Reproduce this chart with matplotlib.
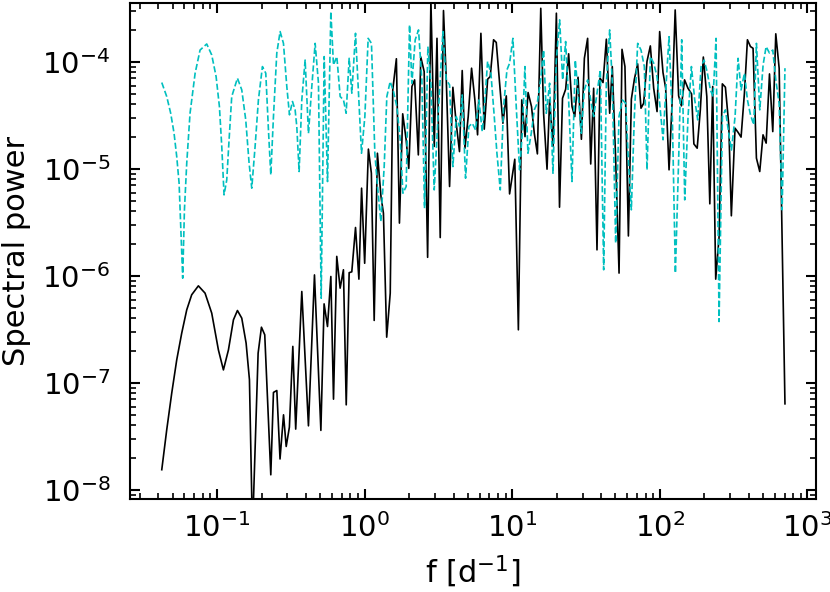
import numpy as np
import matplotlib
matplotlib.use('Agg')
import matplotlib.pyplot as plt

# black curve: frequency [1/d] and spectral power
f_black = [0.0422, 0.0456, 0.0493, 0.0533, 0.0576, 0.0623, 0.0673, 0.0747, 0.0829, 0.0920,
           0.1021, 0.1104, 0.1194, 0.1291, 0.1374, 0.1470, 0.1573, 0.1657, 0.1737, 0.1897,
           0.1998, 0.2104, 0.2312, 0.241, 0.254, 0.267, 0.282, 0.294,
           0.309, 0.326, 0.341, 0.375, 0.416, 0.457, 0.505, 0.531, 0.560, 0.590,
           0.615, 0.647, 0.682, 0.718, 0.750, 0.785, 0.818, 0.867, 0.914, 0.953,
           1.00, 1.06, 1.11, 1.16, 1.22, 1.29, 1.34, 1.41, 1.49, 1.55,
           1.64, 1.72, 1.81, 1.91, 1.99, 2.09, 2.18, 2.31, 2.40, 2.53,
           2.67, 2.81, 2.96, 3.09, 3.25, 3.42, 3.57, 3.76, 3.96, 4.17,
           4.39, 4.58, 4.78, 5.03, 5.30, 5.58, 5.82, 6.13, 6.46, 6.81,
           7.09, 7.47, 7.79, 8.21, 8.64, 9.11, 9.59, 10.4, 11.0, 11.6,
           12.2, 12.8, 13.5, 14.1, 14.8, 15.6, 16.3, 17.2, 17.9, 18.9,
           19.9, 20.9, 21.9, 23.0, 24.1, 25.4, 26.5, 27.9, 29.4, 30.8,
           32.4, 34.0, 35.6, 37.5, 39.3, 41.2, 43.4, 45.7, 47.6, 50.2,
           52.9, 55.4, 58.0, 61.2, 64.1, 67.2, 70.7, 74.5, 77.7, 81.8,
           86.2, 90.8, 95.7, 99.7, 105, 109.5, 115.4, 121, 127, 134,
           140, 147, 155, 164, 170, 179, 188, 197, 208, 218,
           228, 239, 252, 265, 278, 293, 305, 323, 339, 355,
           374, 392, 411, 428, 451, 475, 500, 525, 553, 582,
           610, 643, 704]
p_black = [1.54e-8, 3.64e-8, 8.01e-8, 1.64e-7, 2.91e-7, 4.81e-7, 6.65e-7, 8.06e-7, 6.89e-7, 4.48e-7,
           2.03e-7, 1.32e-7, 2.03e-7, 3.88e-7, 4.74e-7, 4.02e-7, 2.35e-7, 1.07e-7, 4e-9, 1.89e-7,
           3.31e-7, 2.81e-7, 1.38e-8, 8.13e-8, 8.47e-8, 1.94e-8, 5.02e-8, 2.54e-8,
           3.85e-8, 2.19e-7, 3.69e-8, 7.14e-7, 3.96e-8, 1.02e-6, 3.59e-8, 5.47e-7, 3.36e-7, 9.86e-7,
           7.03e-8, 1.52e-6, 7.67e-7, 1.14e-6, 6.22e-8, 1.07e-6, 1.09e-6, 2.83e-6, 9.31e-7, 6.6e-6,
           1.31e-6, 1.53e-5, 9.12e-6, 3.83e-7, 1.40e-5, 5.51e-6, 3.85e-6, 2.67e-7, 6.89e-7, 5.47e-5,
           1.07e-4, 3.11e-6, 3.27e-5, 1.87e-5, 1.01e-5, 5.88e-5, 6.79e-5, 1.35e-5, 1.11e-4, 8.12e-5,
           1.49e-6, 3.8e-4, 1.62e-5, 1.66e-4, 2.28e-6, 3.02e-4, 7.03e-5, 6.84e-6, 5.79e-5, 2.67e-5,
           1.45e-5, 8.30e-5, 1.56e-5, 3.08e-5, 8.73e-5, 4.41e-5, 2.08e-5, 1.85e-4, 2.35e-5, 6.89e-5,
           7.29e-5, 1.61e-4, 1.52e-4, 6.32e-5, 2.67e-5, 4.81e-5, 5.83e-6, 1.23e-5, 3.13e-7, 4.41e-5,
           2.00e-5, 5.17e-5, 3.82e-5, 2.15e-5, 1.38e-5, 3.17e-4, 3.31e-5, 9.93e-6, 4.41e-5, 1.62e-5,
           2.85e-4, 4.38e-6, 4.57e-5, 5.55e-5, 1.19e-4, 3.82e-5, 3.08e-5, 7.19e-5, 1.89e-5, 1.08e-4,
           1.66e-4, 1.11e-5, 5.67e-5, 1.75e-6, 7.04e-5, 6.41e-5, 1.63e-4, 3.31e-5, 9.04e-5, 1.21e-5,
           1.06e-6, 1.31e-4, 9.04e-5, 2.36e-6, 4.48e-5, 6.89e-5, 9.58e-5, 3.69e-5, 4.11e-5, 1.01e-4,
           1.41e-4, 5.67e-5, 3.43e-5, 1.92e-4, 7.95e-5, 5.67e-5, 9.79e-6, 4.11e-5, 3.06e-4, 4.81e-5,
           3.88e-5, 6.79e-5, 5.67e-5, 5.02e-5, 1.71e-5, 1.56e-5, 3.56e-5, 1.11e-4, 4.74e-5, 4.71e-6,
           5.88e-5, 9.31e-7, 2.33e-6, 6.23e-5, 5.80e-5, 2.58e-5, 3.64e-6, 2.40e-5, 2.19e-5, 1.98e-5,
           5.10e-5, 1.61e-4, 1.39e-4, 1.34e-4, 1.26e-5, 9.44e-6, 2.08e-5, 1.74e-5, 7.72e-5, 2.23e-5,
           1.83e-4, 8.73e-5, 6.36e-8]

# cyan dashed curve
f_cyan = [0.0422, 0.0456, 0.0485, 0.0511, 0.0533, 0.0553, 0.0585, 0.0601, 0.0623, 0.0656,
          0.0710, 0.0767, 0.0851, 0.0920, 0.0985, 0.1037, 0.1076, 0.1115, 0.1163, 0.1206,
          0.1257, 0.1374, 0.1470, 0.1564, 0.1648, 0.1718, 0.1810, 0.1906, 0.2029, 0.2138,
          0.2229, 0.2312, 0.241, 0.2539, 0.2674, 0.2817, 0.2968,
          0.3094, 0.3242, 0.3379, 0.3468, 0.3597, 0.3750, 0.3950, 0.4161, 0.4384, 0.4618,
          0.4864, 0.5074, 0.5318, 0.5601, 0.5900, 0.6147, 0.6477, 0.6823, 0.7186, 0.7491,
          0.7851, 0.8185, 0.8669, 0.9130, 0.9519, 1.003, 1.056, 1.112, 1.172, 1.222,
          1.287, 1.356, 1.413, 1.489, 1.568, 1.652, 1.741, 1.815, 1.911, 2.014,
          2.088, 2.200, 2.317, 2.441, 2.545, 2.681, 2.809, 2.959, 3.117, 3.388,
          3.569, 3.760, 3.960, 4.172, 4.395, 4.581, 4.826, 5.084, 5.355, 5.641,
          5.943, 6.260, 6.527, 6.805, 7.167, 7.551, 7.872, 8.292, 8.736, 9.203,
          9.592, 10.10, 10.64, 11.21, 11.69, 12.18, 12.77, 13.45, 14.10, 14.77,
          15.56, 16.31, 17.00, 17.91, 18.87, 19.88, 20.94, 21.94, 22.99, 24.09,
          25.38, 26.73, 28.17, 29.37, 30.77, 32.42, 33.97, 35.60, 37.50, 39.51,
          41.62, 43.38, 45.70, 47.64, 50.18, 52.86, 55.69, 58.66, 61.16, 64.09,
          67.16, 70.74, 74.52, 78.50, 81.85, 86.22, 90.83, 95.68, 99.7, 105.1,
          110.7, 115.4, 121.6, 127.4, 134.2, 140.6, 147.4, 155.2, 163.6, 172.3,
          180.5, 190.2, 199.3, 208.9, 220.0, 229.4, 240.3, 251.8, 265.3, 278.0,
          292.9, 305.4, 323.3, 338.8, 355.0, 374.0, 392.0, 410.9, 432.8, 451.1,
          475.2, 500.6, 524.6, 552.6, 582.1, 610.0, 642.6, 673.5, 704]
p_cyan = [6.41e-5, 4.74e-5, 3.31e-5, 2.16e-5, 1.30e-5, 7.35e-6, 9.51e-7, 4.14e-6, 1.13e-5, 3.31e-5,
          7.83e-5, 1.29e-4, 1.47e-4, 1.16e-4, 7.29e-5, 3.83e-5, 1.62e-5, 5.71e-6, 7.89e-6, 1.87e-5,
          4.74e-5, 7.04e-5, 5.47e-5, 2.87e-5, 1.13e-5, 6.60e-6, 1.62e-5, 4.41e-5, 9.04e-5, 7.83e-5,
          2.31e-5, 8.79e-6, 3.08e-5, 1.21e-4, 1.92e-4, 1.49e-4, 5.88e-5,
          3.20e-5, 4.26e-5, 3.56e-5, 2.49e-5, 9.44e-6, 4.41e-5, 1.04e-4, 2.15e-5, 5.88e-5, 1.49e-4,
          6.32e-5, 6.18e-7, 1.12e-4, 7.61e-6, 2.95e-4, 9.37e-5, 1.12e-4, 4.74e-5, 4.41e-5, 3.31e-5,
          1.08e-4, 5.10e-5, 1.85e-4, 4.41e-5, 1.40e-5, 3.08e-5, 1.66e-4, 1.49e-4, 1.40e-5, 6.84e-6,
          3.22e-6, 1.05e-5, 4.74e-5, 6.55e-5, 5.28e-5, 3.82e-5, 1.87e-5, 5.92e-6, 6.84e-6, 2.22e-4,
          6.32e-5, 1.61e-4, 1.99e-4, 6.79e-5, 4.29e-6, 1.39e-4, 6.32e-5, 6.36e-6, 2.49e-5, 1.92e-4,
          6.79e-5, 6.10e-5, 1.05e-5, 3.08e-5, 2.49e-5, 4.91e-5, 8.18e-6, 2.49e-5, 2.67e-5, 2.31e-5,
          4.41e-5, 2.23e-5, 4.41e-5, 1.01e-4, 7.83e-5, 3.08e-5, 1.40e-5, 6.36e-6, 3.82e-5, 8.42e-5,
          9.72e-5, 1.66e-4, 3.82e-5, 9.79e-6, 2.15e-5, 9.04e-5, 1.40e-5, 2.15e-5, 3.56e-5, 4.11e-5,
          6.79e-5, 1.29e-4, 3.31e-5, 6.32e-5, 9.11e-6, 1.04e-4, 2.47e-4, 6.79e-5, 1.55e-4, 4.41e-5,
          7.61e-6, 1.04e-4, 4.41e-5, 2.15e-5, 5.47e-5, 6.79e-5, 4.41e-5, 3.08e-5, 5.10e-5, 8.42e-5,
          1.14e-6, 6.32e-5, 1.99e-4, 6.32e-5, 2.02e-6, 3.08e-5, 4.41e-5, 4.11e-5, 1.21e-5, 4.14e-6,
          3.08e-5, 1.49e-4, 1.29e-4, 9.04e-5, 9.79e-6, 1.12e-4, 9.72e-5, 7.29e-5, 4.11e-5, 1.87e-5,
          6.79e-5, 1.72e-4, 2.87e-5, 1.06e-6, 1.30e-5, 1.61e-4, 5.13e-6, 3.08e-5, 9.04e-5, 4.41e-5,
          2.87e-5, 9.04e-5, 1.04e-4, 8.12e-5, 5.47e-5, 4.74e-5, 1.66e-4, 3.74e-7, 3.08e-5, 3.56e-5,
          2.15e-5, 1.50e-5, 3.08e-5, 1.08e-4, 5.47e-5, 7.83e-5, 4.41e-5, 3.20e-5, 2.58e-5, 1.49e-4,
          3.56e-5, 9.37e-5, 1.39e-4, 1.21e-4, 1.29e-4, 6.79e-5, 4.11e-5, 4.14e-6, 8.73e-5]

plt.rcParams['font.family'] = ['DejaVu Sans']
plt.rcParams['mathtext.fontset'] = 'dejavusans'

fig = plt.figure(figsize=(8.3, 5.92), dpi=100)
ax = fig.add_axes([0.1566, 0.1571, 0.8265, 0.8378])

ax.loglog(f_black, p_black, 'k-', lw=1.2)          # black spectrum
ax.loglog(f_cyan, p_cyan, 'c--', lw=1.2)           # cyan dashed spectrum

ax.set_xlim(0.0257, 1142)
ax.set_ylim(8.2e-9, 3.55e-4)
ax.set_xlabel(r'f [d$^{-1}$]', fontsize=22, labelpad=8)
ax.set_ylabel('Spectral power', fontsize=22, labelpad=8)

ax.tick_params(which='both', direction='in', top=True, right=True, labelsize=21)
ax.tick_params(which='major', length=7.5, width=1.5)
ax.tick_params(which='minor', length=4, width=1.2)
ax.tick_params(axis='x', which='major', pad=10)
ax.tick_params(axis='y', which='major', pad=14)
for s in ax.spines.values():
    s.set_linewidth(1.5)

fig.savefig('out.png', dpi=100)
